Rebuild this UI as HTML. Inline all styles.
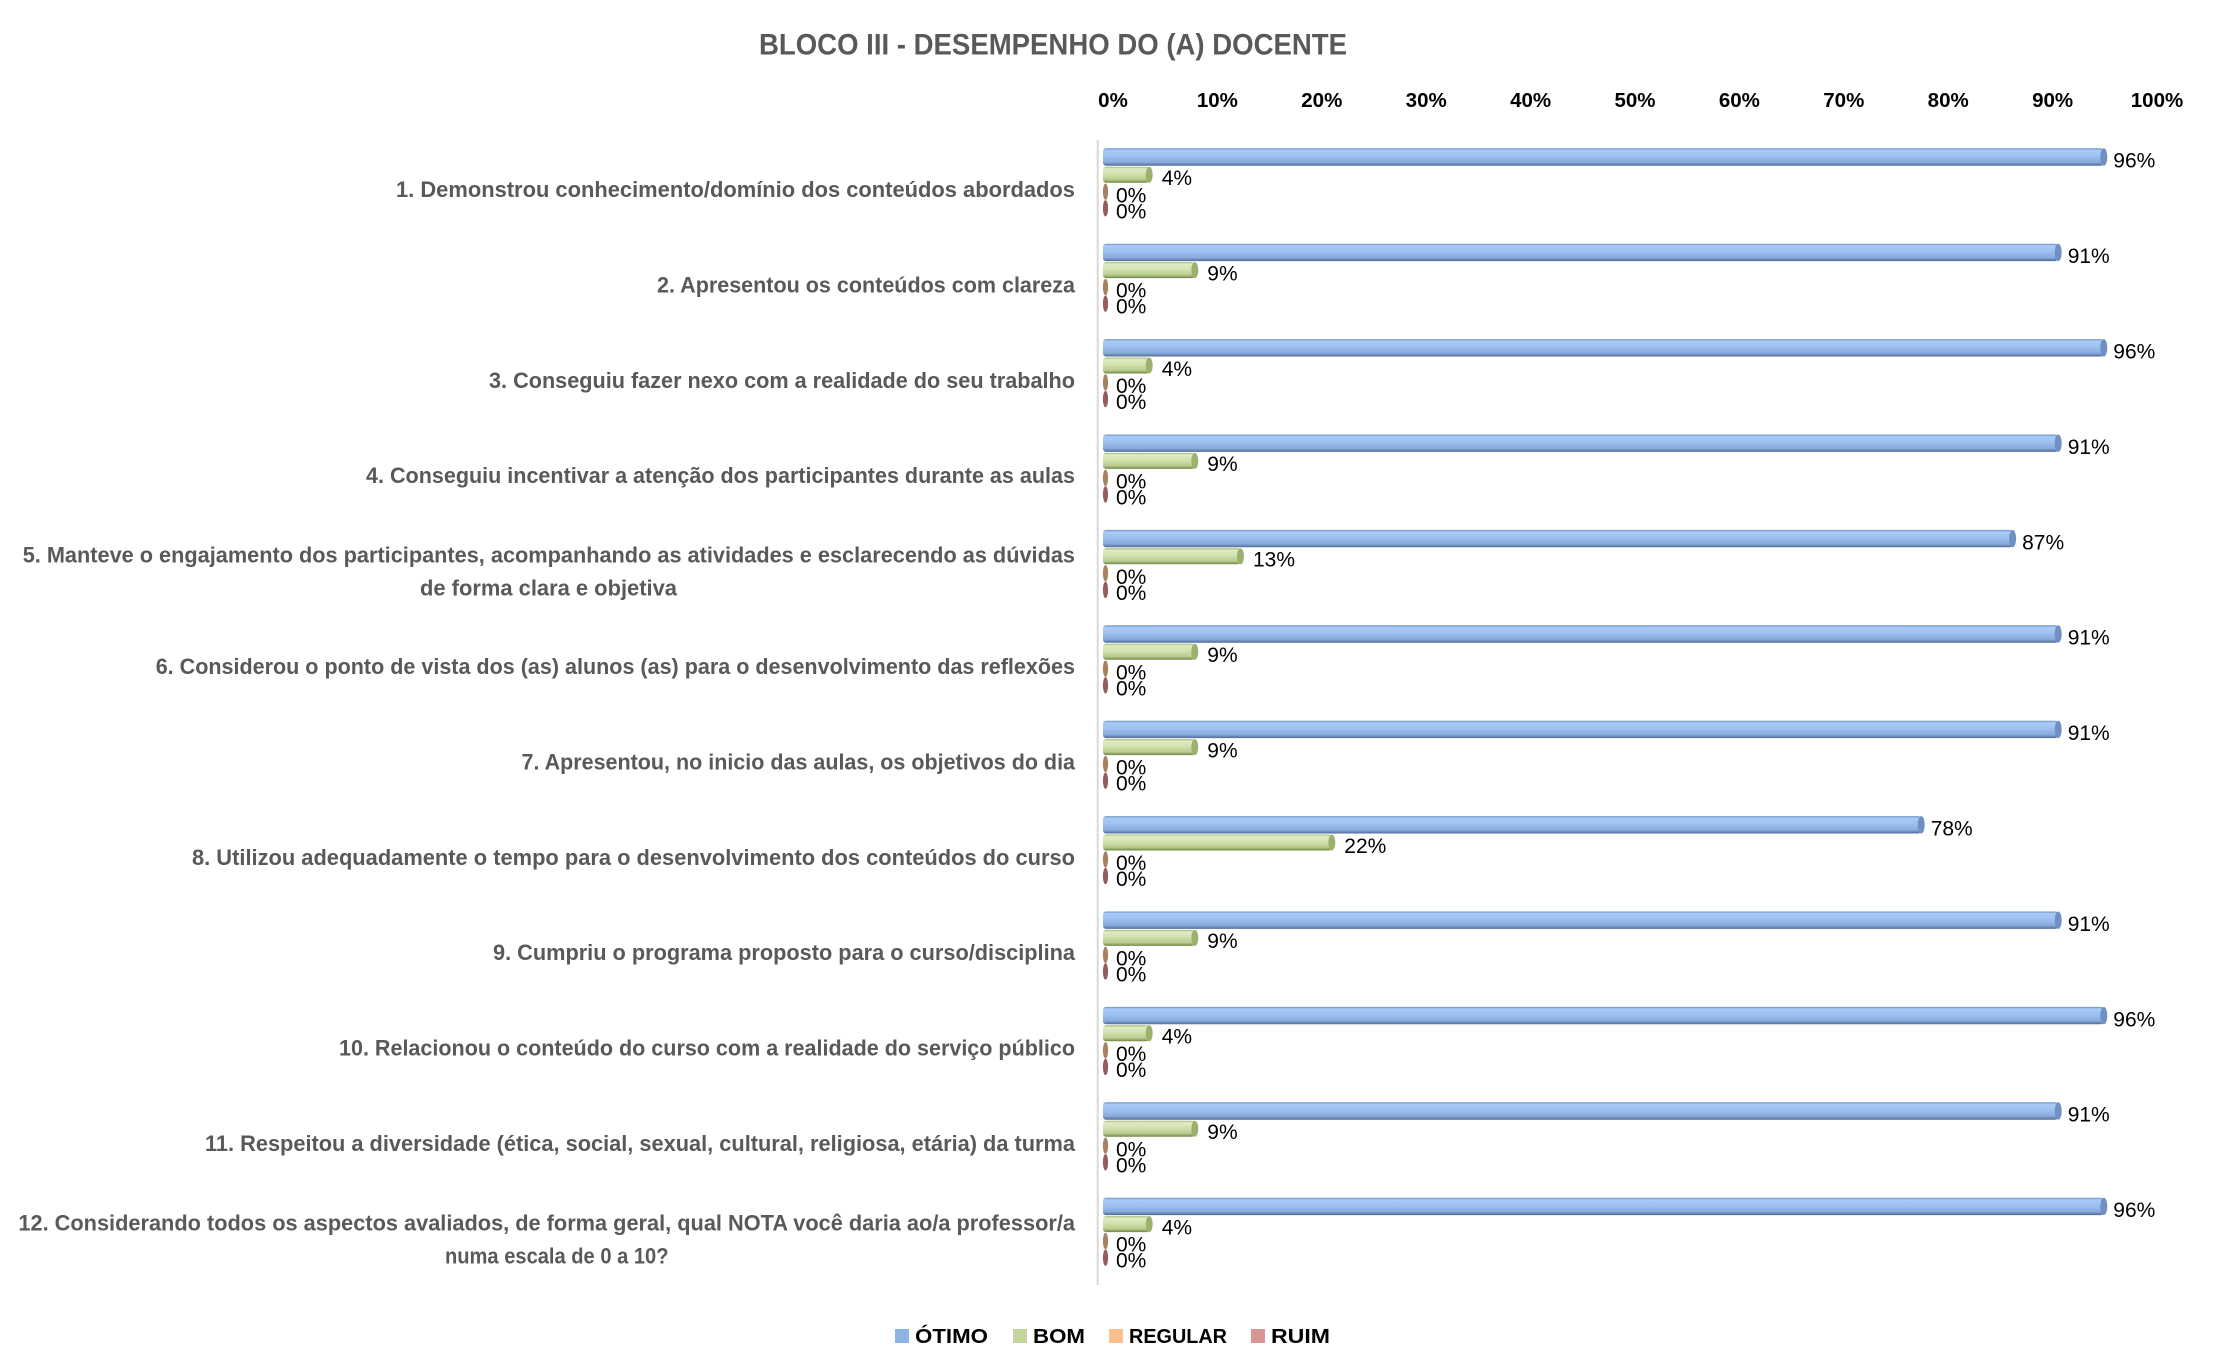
<!DOCTYPE html>
<html>
<head>
<meta charset="utf-8">
<style>
  html, body { margin: 0; padding: 0; background: #ffffff; }
  svg { display: block; }
  .t { font-family: "Liberation Sans", sans-serif; font-weight: bold; font-size: 29.5px; fill: #595959; }
  .x { font-family: "Liberation Sans", sans-serif; font-weight: bold; font-size: 20.5px; fill: #000000; }
  .c { font-family: "Liberation Sans", sans-serif; font-weight: bold; font-size: 22px; fill: #595959; }
  .d { font-family: "Liberation Sans", sans-serif; font-size: 21px; fill: #000000; }
  .l { font-family: "Liberation Sans", sans-serif; font-weight: bold; font-size: 20px; fill: #000000; }
</style>
</head>
<body>
<svg width="2216" height="1370" viewBox="0 0 2216 1370" xmlns="http://www.w3.org/2000/svg">
  <defs>
    <linearGradient id="gb" x1="0" y1="0" x2="0" y2="1">
      <stop offset="0" stop-color="#6E8FC0"/>
      <stop offset="0.12" stop-color="#A9CBF7"/>
      <stop offset="0.45" stop-color="#9CC0F0"/>
      <stop offset="0.8" stop-color="#88ABDD"/>
      <stop offset="1" stop-color="#4F6B94"/>
    </linearGradient>
    <linearGradient id="gg" x1="0" y1="0" x2="0" y2="1">
      <stop offset="0" stop-color="#9FB36F"/>
      <stop offset="0.12" stop-color="#E0ECC6"/>
      <stop offset="0.45" stop-color="#D2E2AE"/>
      <stop offset="0.8" stop-color="#B9CC8E"/>
      <stop offset="1" stop-color="#6E8446"/>
    </linearGradient>
  </defs>

  <rect x="0" y="0" width="2216" height="1370" fill="#ffffff"/>

  <!-- Title -->
  <text class="t" x="759" y="54.3" textLength="588" lengthAdjust="spacingAndGlyphs">BLOCO III - DESEMPENHO DO (A) DOCENTE</text>

  <!-- Axis tick labels -->
  <g text-anchor="middle">
    <text class="x" x="1113" y="107">0%</text>
    <text class="x" x="1217.4" y="107">10%</text>
    <text class="x" x="1321.8" y="107">20%</text>
    <text class="x" x="1426.2" y="107">30%</text>
    <text class="x" x="1530.6" y="107">40%</text>
    <text class="x" x="1635" y="107">50%</text>
    <text class="x" x="1739.4" y="107">60%</text>
    <text class="x" x="1843.8" y="107">70%</text>
    <text class="x" x="1948.2" y="107">80%</text>
    <text class="x" x="2052.6" y="107">90%</text>
    <text class="x" x="2157" y="107">100%</text>
  </g>

  <!-- Vertical axis line -->
  <line x1="1097.7" y1="140" x2="1097.7" y2="1285" stroke="#D9D9D9" stroke-width="2"/>

  <!-- Group 1 -->
  <g transform="translate(0,140)">
    <rect x="1103" y="8.3" width="1000.8" height="17.4" rx="3" fill="url(#gb)"/>
    <ellipse cx="2103.8" cy="17" rx="3.5" ry="8.7" fill="#6F90C0"/>
    <rect x="1103" y="26.7" width="46.2" height="16" rx="3" fill="url(#gg)"/>
    <ellipse cx="1149.2" cy="34.7" rx="3.5" ry="8" fill="#9DB16F"/>
    <ellipse cx="1105.5" cy="51.7" rx="2.6" ry="8.2" fill="#A88260"/>
    <ellipse cx="1105.5" cy="68.3" rx="2.6" ry="8.2" fill="#955C5B"/>
    <text class="d" x="2113.3" y="27.7">96%</text>
    <text class="d" x="1161.7" y="45">4%</text>
    <text class="d" x="1116" y="62.3">0%</text>
    <text class="d" x="1116" y="78.3">0%</text>
    <text class="c" x="396" y="57" textLength="679" lengthAdjust="spacingAndGlyphs">1. Demonstrou conhecimento/domínio dos conteúdos abordados</text>
  </g>

  <!-- Group 2 -->
  <g transform="translate(0,235.4)">
    <rect x="1103" y="8.3" width="955.2" height="17.4" rx="3" fill="url(#gb)"/>
    <ellipse cx="2058.2" cy="17" rx="3.5" ry="8.7" fill="#6F90C0"/>
    <rect x="1103" y="26.7" width="91.8" height="16" rx="3" fill="url(#gg)"/>
    <ellipse cx="1194.8" cy="34.7" rx="3.5" ry="8" fill="#9DB16F"/>
    <ellipse cx="1105.5" cy="51.7" rx="2.6" ry="8.2" fill="#A88260"/>
    <ellipse cx="1105.5" cy="68.3" rx="2.6" ry="8.2" fill="#955C5B"/>
    <text class="d" x="2067.7" y="27.7">91%</text>
    <text class="d" x="1207.3" y="45">9%</text>
    <text class="d" x="1116" y="62.3">0%</text>
    <text class="d" x="1116" y="78.3">0%</text>
    <text class="c" x="657" y="57" textLength="418" lengthAdjust="spacingAndGlyphs">2. Apresentou os conteúdos com clareza</text>
  </g>

  <!-- Group 3 -->
  <g transform="translate(0,330.8)">
    <rect x="1103" y="8.3" width="1000.8" height="17.4" rx="3" fill="url(#gb)"/>
    <ellipse cx="2103.8" cy="17" rx="3.5" ry="8.7" fill="#6F90C0"/>
    <rect x="1103" y="26.7" width="46.2" height="16" rx="3" fill="url(#gg)"/>
    <ellipse cx="1149.2" cy="34.7" rx="3.5" ry="8" fill="#9DB16F"/>
    <ellipse cx="1105.5" cy="51.7" rx="2.6" ry="8.2" fill="#A88260"/>
    <ellipse cx="1105.5" cy="68.3" rx="2.6" ry="8.2" fill="#955C5B"/>
    <text class="d" x="2113.3" y="27.7">96%</text>
    <text class="d" x="1161.7" y="45">4%</text>
    <text class="d" x="1116" y="62.3">0%</text>
    <text class="d" x="1116" y="78.3">0%</text>
    <text class="c" x="489" y="57" textLength="586" lengthAdjust="spacingAndGlyphs">3. Conseguiu fazer nexo com a realidade do seu trabalho</text>
  </g>

  <!-- Group 4 -->
  <g transform="translate(0,426.2)">
    <rect x="1103" y="8.3" width="955.2" height="17.4" rx="3" fill="url(#gb)"/>
    <ellipse cx="2058.2" cy="17" rx="3.5" ry="8.7" fill="#6F90C0"/>
    <rect x="1103" y="26.7" width="91.8" height="16" rx="3" fill="url(#gg)"/>
    <ellipse cx="1194.8" cy="34.7" rx="3.5" ry="8" fill="#9DB16F"/>
    <ellipse cx="1105.5" cy="51.7" rx="2.6" ry="8.2" fill="#A88260"/>
    <ellipse cx="1105.5" cy="68.3" rx="2.6" ry="8.2" fill="#955C5B"/>
    <text class="d" x="2067.7" y="27.7">91%</text>
    <text class="d" x="1207.3" y="45">9%</text>
    <text class="d" x="1116" y="62.3">0%</text>
    <text class="d" x="1116" y="78.3">0%</text>
    <text class="c" x="366" y="57" textLength="709" lengthAdjust="spacingAndGlyphs">4. Conseguiu incentivar a atenção dos participantes durante as aulas</text>
  </g>

  <!-- Group 5 -->
  <g transform="translate(0,521.6)">
    <rect x="1103" y="8.3" width="909.6" height="17.4" rx="3" fill="url(#gb)"/>
    <ellipse cx="2012.6" cy="17" rx="3.5" ry="8.7" fill="#6F90C0"/>
    <rect x="1103" y="26.7" width="137.5" height="16" rx="3" fill="url(#gg)"/>
    <ellipse cx="1240.5" cy="34.7" rx="3.5" ry="8" fill="#9DB16F"/>
    <ellipse cx="1105.5" cy="51.7" rx="2.6" ry="8.2" fill="#A88260"/>
    <ellipse cx="1105.5" cy="68.3" rx="2.6" ry="8.2" fill="#955C5B"/>
    <text class="d" x="2022.1" y="27.7">87%</text>
    <text class="d" x="1253" y="45">13%</text>
    <text class="d" x="1116" y="62.3">0%</text>
    <text class="d" x="1116" y="78.3">0%</text>
    <text class="c" x="22.7" y="41" textLength="1052.3" lengthAdjust="spacingAndGlyphs">5. Manteve o engajamento dos participantes, acompanhando as atividades e esclarecendo as dúvidas</text>
    <text class="c" x="420" y="74" textLength="257" lengthAdjust="spacingAndGlyphs">de forma clara e objetiva</text>
  </g>

  <!-- Group 6 -->
  <g transform="translate(0,617)">
    <rect x="1103" y="8.3" width="955.2" height="17.4" rx="3" fill="url(#gb)"/>
    <ellipse cx="2058.2" cy="17" rx="3.5" ry="8.7" fill="#6F90C0"/>
    <rect x="1103" y="26.7" width="91.8" height="16" rx="3" fill="url(#gg)"/>
    <ellipse cx="1194.8" cy="34.7" rx="3.5" ry="8" fill="#9DB16F"/>
    <ellipse cx="1105.5" cy="51.7" rx="2.6" ry="8.2" fill="#A88260"/>
    <ellipse cx="1105.5" cy="68.3" rx="2.6" ry="8.2" fill="#955C5B"/>
    <text class="d" x="2067.7" y="27.7">91%</text>
    <text class="d" x="1207.3" y="45">9%</text>
    <text class="d" x="1116" y="62.3">0%</text>
    <text class="d" x="1116" y="78.3">0%</text>
    <text class="c" x="155.7" y="57" textLength="919.3" lengthAdjust="spacingAndGlyphs">6. Considerou o ponto de vista dos (as) alunos (as) para o desenvolvimento das reflexões</text>
  </g>

  <!-- Group 7 -->
  <g transform="translate(0,712.4)">
    <rect x="1103" y="8.3" width="955.2" height="17.4" rx="3" fill="url(#gb)"/>
    <ellipse cx="2058.2" cy="17" rx="3.5" ry="8.7" fill="#6F90C0"/>
    <rect x="1103" y="26.7" width="91.8" height="16" rx="3" fill="url(#gg)"/>
    <ellipse cx="1194.8" cy="34.7" rx="3.5" ry="8" fill="#9DB16F"/>
    <ellipse cx="1105.5" cy="51.7" rx="2.6" ry="8.2" fill="#A88260"/>
    <ellipse cx="1105.5" cy="68.3" rx="2.6" ry="8.2" fill="#955C5B"/>
    <text class="d" x="2067.7" y="27.7">91%</text>
    <text class="d" x="1207.3" y="45">9%</text>
    <text class="d" x="1116" y="62.3">0%</text>
    <text class="d" x="1116" y="78.3">0%</text>
    <text class="c" x="521.5" y="57" textLength="553.5" lengthAdjust="spacingAndGlyphs">7. Apresentou, no inicio das aulas, os objetivos do dia</text>
  </g>

  <!-- Group 8 -->
  <g transform="translate(0,807.8)">
    <rect x="1103" y="8.3" width="818.2" height="17.4" rx="3" fill="url(#gb)"/>
    <ellipse cx="1921.2" cy="17" rx="3.5" ry="8.7" fill="#6F90C0"/>
    <rect x="1103" y="26.7" width="228.8" height="16" rx="3" fill="url(#gg)"/>
    <ellipse cx="1331.8" cy="34.7" rx="3.5" ry="8" fill="#9DB16F"/>
    <ellipse cx="1105.5" cy="51.7" rx="2.6" ry="8.2" fill="#A88260"/>
    <ellipse cx="1105.5" cy="68.3" rx="2.6" ry="8.2" fill="#955C5B"/>
    <text class="d" x="1930.7" y="27.7">78%</text>
    <text class="d" x="1344.3" y="45">22%</text>
    <text class="d" x="1116" y="62.3">0%</text>
    <text class="d" x="1116" y="78.3">0%</text>
    <text class="c" x="192" y="57" textLength="883" lengthAdjust="spacingAndGlyphs">8. Utilizou adequadamente o tempo para o desenvolvimento dos conteúdos do curso</text>
  </g>

  <!-- Group 9 -->
  <g transform="translate(0,903.2)">
    <rect x="1103" y="8.3" width="955.2" height="17.4" rx="3" fill="url(#gb)"/>
    <ellipse cx="2058.2" cy="17" rx="3.5" ry="8.7" fill="#6F90C0"/>
    <rect x="1103" y="26.7" width="91.8" height="16" rx="3" fill="url(#gg)"/>
    <ellipse cx="1194.8" cy="34.7" rx="3.5" ry="8" fill="#9DB16F"/>
    <ellipse cx="1105.5" cy="51.7" rx="2.6" ry="8.2" fill="#A88260"/>
    <ellipse cx="1105.5" cy="68.3" rx="2.6" ry="8.2" fill="#955C5B"/>
    <text class="d" x="2067.7" y="27.7">91%</text>
    <text class="d" x="1207.3" y="45">9%</text>
    <text class="d" x="1116" y="62.3">0%</text>
    <text class="d" x="1116" y="78.3">0%</text>
    <text class="c" x="493" y="57" textLength="582" lengthAdjust="spacingAndGlyphs">9. Cumpriu o programa proposto para o curso/disciplina</text>
  </g>

  <!-- Group 10 -->
  <g transform="translate(0,998.6)">
    <rect x="1103" y="8.3" width="1000.8" height="17.4" rx="3" fill="url(#gb)"/>
    <ellipse cx="2103.8" cy="17" rx="3.5" ry="8.7" fill="#6F90C0"/>
    <rect x="1103" y="26.7" width="46.2" height="16" rx="3" fill="url(#gg)"/>
    <ellipse cx="1149.2" cy="34.7" rx="3.5" ry="8" fill="#9DB16F"/>
    <ellipse cx="1105.5" cy="51.7" rx="2.6" ry="8.2" fill="#A88260"/>
    <ellipse cx="1105.5" cy="68.3" rx="2.6" ry="8.2" fill="#955C5B"/>
    <text class="d" x="2113.3" y="27.7">96%</text>
    <text class="d" x="1161.7" y="45">4%</text>
    <text class="d" x="1116" y="62.3">0%</text>
    <text class="d" x="1116" y="78.3">0%</text>
    <text class="c" x="339" y="57" textLength="736" lengthAdjust="spacingAndGlyphs">10. Relacionou o conteúdo do curso com a realidade do serviço público</text>
  </g>

  <!-- Group 11 -->
  <g transform="translate(0,1094)">
    <rect x="1103" y="8.3" width="955.2" height="17.4" rx="3" fill="url(#gb)"/>
    <ellipse cx="2058.2" cy="17" rx="3.5" ry="8.7" fill="#6F90C0"/>
    <rect x="1103" y="26.7" width="91.8" height="16" rx="3" fill="url(#gg)"/>
    <ellipse cx="1194.8" cy="34.7" rx="3.5" ry="8" fill="#9DB16F"/>
    <ellipse cx="1105.5" cy="51.7" rx="2.6" ry="8.2" fill="#A88260"/>
    <ellipse cx="1105.5" cy="68.3" rx="2.6" ry="8.2" fill="#955C5B"/>
    <text class="d" x="2067.7" y="27.7">91%</text>
    <text class="d" x="1207.3" y="45">9%</text>
    <text class="d" x="1116" y="62.3">0%</text>
    <text class="d" x="1116" y="78.3">0%</text>
    <text class="c" x="205" y="57" textLength="870" lengthAdjust="spacingAndGlyphs">11. Respeitou a diversidade (ética, social, sexual, cultural, religiosa, etária) da turma</text>
  </g>

  <!-- Group 12 -->
  <g transform="translate(0,1189.4)">
    <rect x="1103" y="8.3" width="1000.8" height="17.4" rx="3" fill="url(#gb)"/>
    <ellipse cx="2103.8" cy="17" rx="3.5" ry="8.7" fill="#6F90C0"/>
    <rect x="1103" y="26.7" width="46.2" height="16" rx="3" fill="url(#gg)"/>
    <ellipse cx="1149.2" cy="34.7" rx="3.5" ry="8" fill="#9DB16F"/>
    <ellipse cx="1105.5" cy="51.7" rx="2.6" ry="8.2" fill="#A88260"/>
    <ellipse cx="1105.5" cy="68.3" rx="2.6" ry="8.2" fill="#955C5B"/>
    <text class="d" x="2113.3" y="27.7">96%</text>
    <text class="d" x="1161.7" y="45">4%</text>
    <text class="d" x="1116" y="62.3">0%</text>
    <text class="d" x="1116" y="78.3">0%</text>
    <text class="c" x="18.4" y="41" textLength="1056.6" lengthAdjust="spacingAndGlyphs">12. Considerando todos os aspectos avaliados, de forma geral, qual NOTA você daria ao/a professor/a</text>
    <text class="c" x="445" y="74" textLength="223.5" lengthAdjust="spacingAndGlyphs">numa escala de 0 a 10?</text>
  </g>

  <!-- Legend -->
  <rect x="895" y="1329" width="14" height="14" fill="#8EB4E3"/>
  <text class="l" x="915" y="1343" textLength="73" lengthAdjust="spacingAndGlyphs">ÓTIMO</text>
  <rect x="1013" y="1329" width="14" height="14" fill="#C3D69B"/>
  <text class="l" x="1033" y="1343" textLength="52" lengthAdjust="spacingAndGlyphs">BOM</text>
  <rect x="1109" y="1329" width="14" height="14" fill="#FAC090"/>
  <text class="l" x="1129" y="1343" textLength="98" lengthAdjust="spacingAndGlyphs">REGULAR</text>
  <rect x="1251" y="1329" width="14" height="14" fill="#D99694"/>
  <text class="l" x="1271" y="1343" textLength="59" lengthAdjust="spacingAndGlyphs">RUIM</text>
</svg>
</body>
</html>
